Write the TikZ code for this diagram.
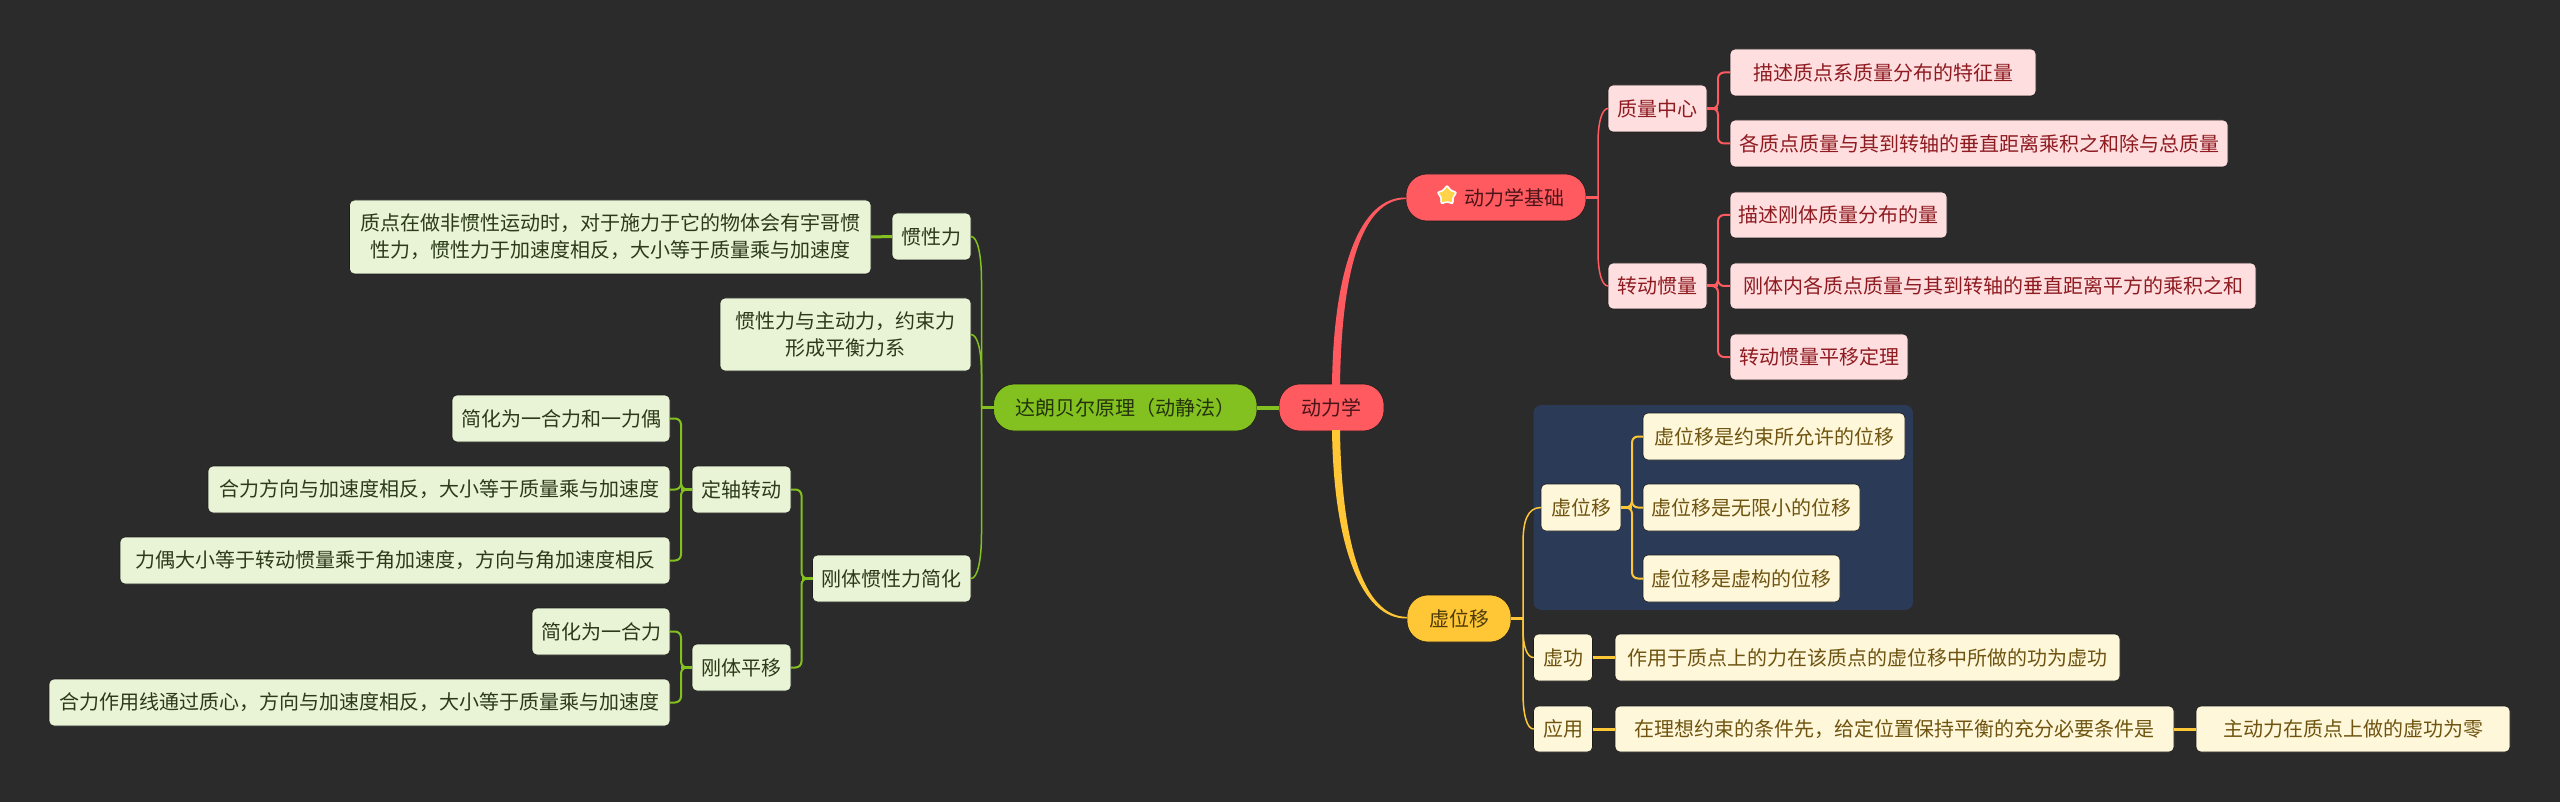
\documentclass[tikz,border=0pt]{standalone}
\usepackage{fontspec}
\setmainfont{Noto Sans CJK SC}
\usetikzlibrary{calc,shapes.geometric}
\definecolor{bgc}{HTML}{2B2B2B}
\definecolor{edge}{HTML}{1C1C1C}
\definecolor{redm}{HTML}{FF5A60}
\definecolor{redt}{HTML}{4A1518}
\definecolor{redl}{HTML}{FFDEE0}
\definecolor{redd}{HTML}{8E1B20}
\definecolor{yelm}{HTML}{FFC736}
\definecolor{yelt}{HTML}{4F3C0A}
\definecolor{yell}{HTML}{FFF7DA}
\definecolor{yeld}{HTML}{6E5410}
\definecolor{grnm}{HTML}{82C11F}
\definecolor{grnt}{HTML}{24330C}
\definecolor{grnl}{HTML}{E9F3D5}
\definecolor{grnd}{HTML}{2C3A1A}
\definecolor{navy}{HTML}{2A3A57}
\definecolor{starc}{HTML}{FFD44A}
\tikzset{
  base/.style={inner sep=0pt,outer sep=0pt,align=center,font=\fontsize{20}{27}\selectfont},
  mainr/.style={base,fill=redm,text=redt,rounded corners=21pt,draw=edge,line width=.6pt},
  mainy/.style={base,fill=yelm,text=yelt,rounded corners=21pt,draw=edge,line width=.6pt},
  maing/.style={base,fill=grnm,text=grnt,rounded corners=21pt,draw=edge,line width=.6pt},
  leafr/.style={base,fill=redl,text=redd,rounded corners=5pt,draw=edge,line width=.6pt},
  leafy/.style={base,fill=yell,text=yeld,rounded corners=5pt,draw=edge,line width=.6pt},
  leafg/.style={base,fill=grnl,text=grnd,rounded corners=5pt,draw=edge,line width=.6pt},
  panel/.style={base,fill=navy,rounded corners=8pt},
  thinlink/.style={line width=1.5pt,line cap=round},
  elbow/.style={line width=2pt,rounded corners=6pt},
  stub/.style={line width=3pt},
  thinstub/.style={line width=2.2pt},
}
\newcommand{\mmbox}[7]{%
  \pgfmathsetmacro\mmcx{(#2+#4)/2}\pgfmathsetmacro\mmcy{(#3+#5)/2}%
  \pgfmathsetmacro\mmw{#4-#2}\pgfmathsetmacro\mmh{#5-#3}%
  \node[#6,minimum width=\mmw pt,minimum height=\mmh pt] (#1) at (\mmcx,\mmcy) {#7};}
% elbow connectors: colour, parent, child
\newcommand{\rlink}[3]{\draw[#1,elbow,line join=round] (#2.east) -- ++(11,0) |- (#3.west);\draw[stub,#1] (#2.east) -- ++(11,0);}
\newcommand{\llink}[3]{\draw[#1,elbow,line join=round] (#2.west) -- ++(-11,0) |- (#3.east);\draw[stub,#1] (#2.west) -- ++(-11,0);}
% long slender connectors: colour, parent, child, signed bend height
\newcommand{\rbow}[4]{\coordinate (tr) at ($(#2.east)+(12,0)$);
  \draw[#1,thinstub] (#2.east) -- (tr);
  \draw[#1,thinlink] (tr) -- ($(tr |- #3.west)+(0,#4)$) .. controls ($(tr |- #3.west)+(0,#4*0.4)$) and ($(tr |- #3.west)+(4,0)$) .. (#3.west);}
\newcommand{\lbow}[4]{\coordinate (tr) at ($(#2.west)+(-12,0)$);
  \draw[#1,thinstub] (#2.west) -- (tr);
  \draw[#1,thinlink] (tr) -- ($(tr |- #3.east)+(0,#4)$) .. controls ($(tr |- #3.east)+(0,#4*0.4)$) and ($(tr |- #3.east)+(-4,0)$) .. (#3.east);}
\begin{document}
\begin{tikzpicture}[x=1pt,y=-1pt]
\useasboundingbox (0,0) rectangle (2560,802);
\fill[bgc] (0,0) rectangle (2560,802);
\mmbox{pan}{1533.5}{405}{1913}{610}{panel}{}
% root
\mmbox{root}{1279}{384}{1384}{431}{mainr}{动力学}
% red
\mmbox{dyn}{1406}{174}{1586}{221}{mainr}{\hspace*{36pt}动力学基础}
\node[star,star points=5,star point ratio=1.75,minimum size=21pt,inner sep=0pt,fill=starc,draw=white,line width=1.6pt,rounded corners=2.5pt] (icon) at (1447,195.5) {};
\mmbox{zx}{1608}{85}{1707}{132}{leafr}{质量中心}
\mmbox{zx1}{1730}{49}{2036}{96}{leafr}{描述质点系质量分布的特征量}
\mmbox{zx2}{1730}{120}{2228}{167}{leafr}{各质点质量与其到转轴的垂直距离乘积之和除与总质量}
\mmbox{gl}{1608}{263}{1707}{309}{leafr}{转动惯量}
\mmbox{gl1}{1730}{192}{1947}{238}{leafr}{描述刚体质量分布的量}
\mmbox{gl2}{1730}{263}{2256}{309}{leafr}{刚体内各质点质量与其到转轴的垂直距离平方的乘积之和}
\mmbox{gl3}{1730}{334}{1908}{380}{leafr}{转动惯量平移定理}
% yellow
\mmbox{xw}{1407}{595}{1511}{642}{mainy}{虚位移}
\mmbox{xa}{1541}{484}{1621}{531}{leafy}{虚位移}
\mmbox{xa1}{1643}{413}{1905}{460}{leafy}{虚位移是约束所允许的位移}
\mmbox{xa2}{1643}{484}{1860}{531}{leafy}{虚位移是无限小的位移}
\mmbox{xa3}{1643}{555}{1840}{602}{leafy}{虚位移是虚构的位移}
\mmbox{xg}{1533.5}{634}{1592.5}{681}{leafy}{虚功}
\mmbox{xg1}{1615}{634}{2120}{681}{leafy}{作用于质点上的力在该质点的虚位移中所做的功为虚功}
\mmbox{yy}{1533.5}{706}{1592.5}{752}{leafy}{应用}
\mmbox{yy1}{1615}{706}{2174}{752}{leafy}{在理想约束的条件先，给定位置保持平衡的充分必要条件是}
\mmbox{yy2}{2196}{706}{2510}{752}{leafy}{主动力在质点上做的虚功为零}
% green
\mmbox{dl}{993.5}{384}{1257}{431}{maing}{达朗贝尔原理（动静法）}
\mmbox{gx}{892}{213}{971}{260}{leafg}{惯性力}
\mmbox{gx1}{349.5}{200}{871}{274}{leafg}{质点在做非惯性运动时，对于施力于它的物体会有宇哥惯\\性力，惯性力于加速度相反，大小等于质量乘与加速度}
\mmbox{gz}{720}{298}{971}{371}{leafg}{惯性力与主动力，约束力\\形成平衡力系}
\mmbox{gt}{812.5}{555}{971}{602}{leafg}{刚体惯性力简化}
\mmbox{dz}{692}{466}{791}{513}{leafg}{定轴转动}
\mmbox{dz1}{452}{395}{670}{442}{leafg}{简化为一合力和一力偶}
\mmbox{dz2}{208}{466}{670}{513}{leafg}{合力方向与加速度相反，大小等于质量乘与加速度}
\mmbox{dz3}{120}{537}{670}{584}{leafg}{力偶大小等于转动惯量乘于角加速度，方向与角加速度相反}
\mmbox{gp}{692}{644}{791}{691}{leafg}{刚体平移}
\mmbox{gp1}{532}{608}{670}{655}{leafg}{简化为一合力}
\mmbox{gp2}{49}{679}{670}{726}{leafg}{合力作用线通过质心，方向与加速度相反，大小等于质量乘与加速度}
% main tapered connectors
\fill[redm] ($(root.north)+(0.5,1)$) .. controls ($(root.north)+(2,-116)$) and ($(dyn.west)+(-46,-1)$) .. (dyn.west)
  -- ($(dyn.west)+(0,1.6)$) .. controls ($(dyn.west)+(-44,2)$) and ($(root.north)+(10,-114)$) .. ($(root.north)+(8.5,1)$) -- cycle;
\fill[yelm] ($(root.south)+(0.5,-1)$) .. controls ($(root.south)+(2,114)$) and ($(xw.west)+(-46,1)$) .. (xw.west)
  -- ($(xw.west)+(0,-1.6)$) .. controls ($(xw.west)+(-44,-2)$) and ($(root.south)+(10,112)$) .. ($(root.south)+(8.5,-1)$) -- cycle;
\draw[grnm,line width=4pt] (root.west) -- (dl.east);
% red links
\rbow{redm}{dyn}{zx}{34}\rbow{redm}{dyn}{gl}{-34}
\rlink{redm}{zx}{zx1}\rlink{redm}{zx}{zx2}
\rlink{redm}{gl}{gl1}\rlink{redm}{gl}{gl2}\rlink{redm}{gl}{gl3}
% yellow links
\rbow{yelm}{xw}{xa}{36}\rbow{yelm}{xw}{xg}{-28}\rbow{yelm}{xw}{yy}{-36}
\rlink{yelm}{xa}{xa1}\rlink{yelm}{xa}{xa2}\rlink{yelm}{xa}{xa3}
\draw[yelm,stub] (xg.east) -- (xg1.west);
\draw[yelm,stub] (yy.east) -- (yy1.west);
\draw[yelm,stub] (yy1.east) -- (yy2.west);
% green links
\lbow{grnm}{dl}{gx}{45}\lbow{grnm}{dl}{gz}{40}\lbow{grnm}{dl}{gt}{-45}
\draw[grnm,stub] (gx.west) -- (gx1.east);
\llink{grnm}{gt}{dz}\llink{grnm}{gt}{gp}
\llink{grnm}{dz}{dz1}\llink{grnm}{dz}{dz2}\llink{grnm}{dz}{dz3}
\llink{grnm}{gp}{gp1}\llink{grnm}{gp}{gp2}
\end{tikzpicture}
\end{document}
